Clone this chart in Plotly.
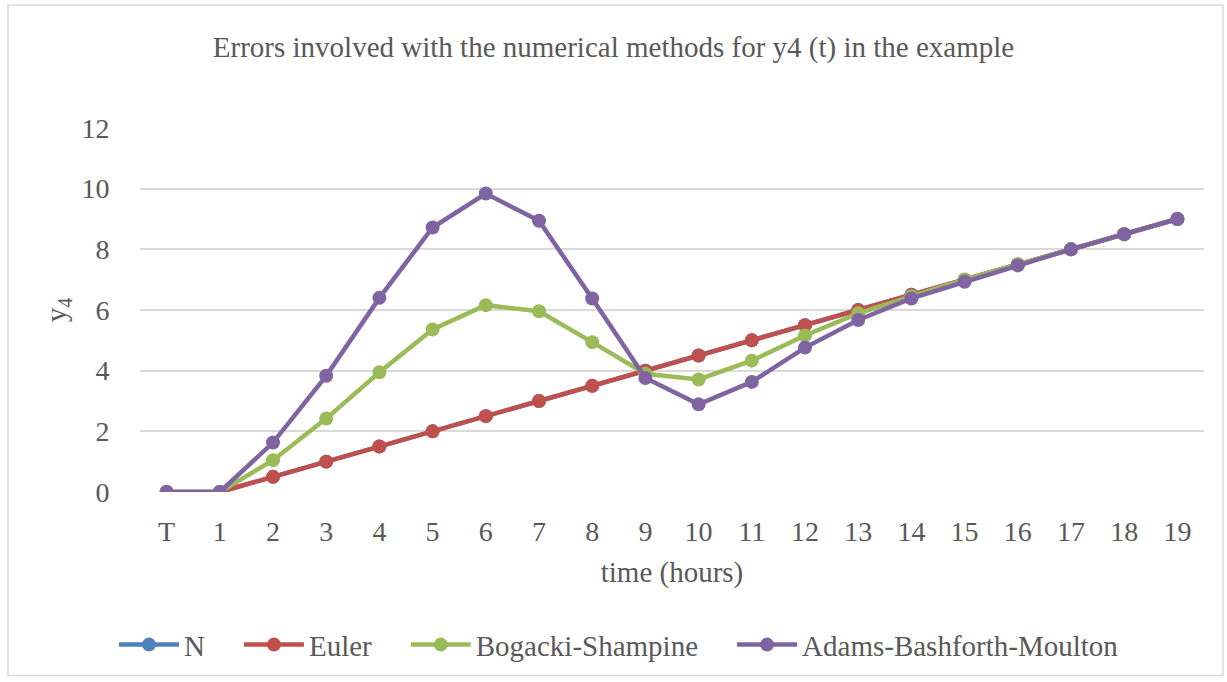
import plotly.graph_objects as go

categories = ["T", "1", "2", "3", "4", "5", "6", "7", "8", "9", "10",
              "11", "12", "13", "14", "15", "16", "17", "18", "19"]

n_vals = [0, 0, 0.5, 1, 1.5, 2, 2.5, 3, 3.5, 4, 4.5,
          5, 5.5, 6, 6.5, 7, 7.5, 8, 8.5, 9]
euler_vals = [0, 0, 0.5, 1, 1.5, 2, 2.5, 3, 3.5, 4, 4.5,
              5, 5.5, 6, 6.5, 7, 7.5, 8, 8.5, 9]
bogacki_vals = [0, 0, 1.05, 2.42, 3.95, 5.36, 6.16, 5.96, 4.94, 3.9, 3.71,
                4.33, 5.16, 5.89, 6.45, 7.0, 7.5, 8.0, 8.5, 9.0]
abm_vals = [0, 0, 1.63, 3.83, 6.4, 8.72, 9.84, 8.94, 6.38, 3.76, 2.89,
            3.63, 4.76, 5.67, 6.38, 6.93, 7.47, 8.0, 8.5, 9.0]

series = [
    ("N", n_vals, "#4F81BD"),
    ("Euler", euler_vals, "#C0504D"),
    ("Bogacki-Shampine", bogacki_vals, "#9BBB59"),
    ("Adams-Bashforth-Moulton", abm_vals, "#8064A2"),
]

font_family = "Liberation Serif"
text_color = "#595959"
fs = 29
tick_fs = 28
# extra room after each legend entry (non-breaking spaces keep their width)
legend_pad = "\u00a0" * 4

fig = go.Figure()
for i, (name, vals, color) in enumerate(series):
    label = name + (legend_pad if i < len(series) - 1 else "")
    fig.add_trace(go.Scatter(
        x=categories, y=vals, name=label, mode="lines+markers",
        line=dict(color=color, width=4.5),
        marker=dict(color=color, size=14),
    ))

fig.update_layout(
    width=1227, height=682,
    paper_bgcolor="white", plot_bgcolor="white",
    margin=dict(l=140, r=23, t=128, b=187),
    font=dict(family=font_family, color=text_color, size=fs),
    title=dict(
        text="Errors involved with the numerical methods for y4 (t) in the example",
        x=0.5, xanchor="center", y=1 - 47 / 682, yanchor="middle",
        font=dict(size=fs, color=text_color, family=font_family),
    ),
    xaxis=dict(
        type="category", range=[-0.5, 19.5], showgrid=False, zeroline=False,
        showline=False, ticks="outside", tickcolor="white", ticklen=14,
        tickfont=dict(size=tick_fs, color=text_color, family=font_family),
        title=dict(text="time (hours)", font=dict(size=fs, color=text_color, family=font_family), standoff=16),
    ),
    yaxis=dict(
        range=[0, 12], dtick=2, showgrid=True, gridcolor="#D9D9D9", gridwidth=1.5,
        zeroline=False, showline=False, ticks="outside", tickcolor="white", ticklen=24,
        tickfont=dict(size=tick_fs, color=text_color, family=font_family),
        title=dict(text="y<sub>4</sub>", font=dict(size=fs, color=text_color, family=font_family), standoff=6),
    ),
    legend=dict(
        orientation="h", x=(619 - 140) / (1227 - 163), xanchor="center",
        y=-(649 - 495) / (495 - 128), yanchor="middle",
        font=dict(size=fs, color=text_color, family=font_family), itemwidth=60,
    ),
    shapes=[dict(
        type="rect", xref="paper", yref="paper",
        x0=-(140 - 8) / (1227 - 163), x1=1 + (23 - 4) / (1227 - 163),
        y0=-(682 - 495 - 2) / (495 - 128), y1=1 + (128 - 4) / (495 - 128),
        line=dict(color="#D9D9D9", width=1.5), fillcolor="rgba(0,0,0,0)", layer="below",
    )],
)

fig.write_html("out.html")
